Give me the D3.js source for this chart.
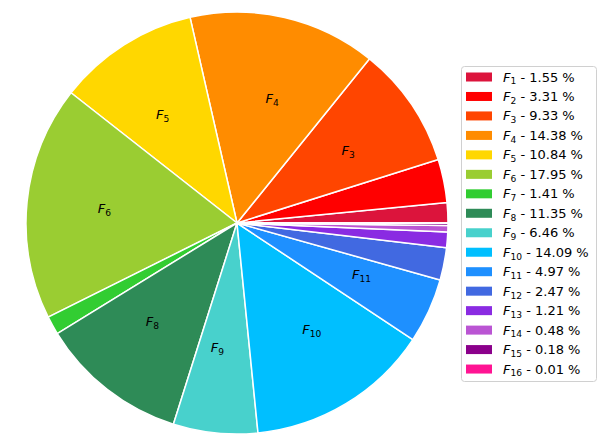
<!DOCTYPE html>
<html>
<head>
<meta charset="utf-8">
<script src="https://cdn.jsdelivr.net/npm/d3@7"></script>
<style>
  body { margin: 0; background: #fff; }
  text { font-family: "DejaVu Sans", sans-serif; }
</style>
</head>
<body>
<svg id="chart" width="598" height="448"></svg>
<script>
const names = ["1","2","3","4","5","6","7","8","9","10","11","12","13","14","15","16"];
const shares = [1.55, 3.31, 9.33, 14.38, 10.84, 17.95, 1.41, 11.35, 6.46, 14.09, 4.97, 2.47, 1.21, 0.48, 0.18, 0.01];
const colors = ["crimson","red","orangered","darkorange","gold","yellowgreen","limegreen","seagreen",
  "mediumturquoise","deepskyblue","dodgerblue","royalblue","blueviolet","mediumorchid","darkmagenta","deeppink"];

const svg = d3.select("#chart");
const cx = 237, cy = 223, r = 211;

const items = names.map((n, i) => ({ name: n, value: shares[i], color: colors[i] }));

// matplotlib style: start at 3 o'clock, counterclockwise
const pie = d3.pie().value(d => d.value).sort(null)
  .startAngle(Math.PI / 2).endAngle(Math.PI / 2 - 2 * Math.PI);
const arcs = pie(items);
const arc = d3.arc().innerRadius(0).outerRadius(r);
const labelArc = d3.arc().innerRadius(r * 0.6).outerRadius(r * 0.6);

const g = svg.append("g").attr("transform", `translate(${cx},${cy})`);

g.selectAll("path")
  .data(arcs)
  .enter()
  .append("path")
  .attr("d", arc)
  .attr("fill", d => d.data.color)
  .attr("stroke", "#fff")
  .attr("stroke-width", 1.5)
  .attr("stroke-linejoin", "round");

function fLabel(sel, size) {
  sel.append("tspan").style("font-style", "italic").attr("font-size", size).text("F");
  sel.append("tspan").attr("font-size", size * 0.7).attr("dy", size * 0.22).text(d => d.name || d.data.name);
}

// labels: left-aligned on the right half, right-aligned on the left half
const lbl = g.selectAll("text.lbl")
  .data(arcs.filter(d => d.data.value > 4))
  .enter()
  .append("text")
  .attr("class", "lbl")
  .attr("text-anchor", d => labelArc.centroid(d)[0] > 0 ? "start" : "end")
  .attr("x", d => labelArc.centroid(d)[0])
  .attr("y", d => labelArc.centroid(d)[1] + 3)
  .attr("fill", "#000");
fLabel(lbl, 13);

// legend
const lx = 461, ly = 66, lw = 136, lh = 315, rowH = 19.47;
svg.append("rect")
  .attr("x", lx + 0.5).attr("y", ly + 0.5)
  .attr("width", lw - 1).attr("height", lh)
  .attr("rx", 3)
  .attr("fill", "#fff")
  .attr("stroke", "#d0d0d0");

const leg = svg.append("g").attr("transform", `translate(${lx},${ly})`);
const rows = leg.selectAll("g")
  .data(items)
  .enter()
  .append("g")
  .attr("transform", (d, i) => `translate(0,${11 + i * rowH})`);

rows.append("rect")
  .attr("x", 5).attr("y", -4.5)
  .attr("width", 26).attr("height", 9)
  .attr("fill", d => d.color);

const lt = rows.append("text")
  .attr("x", 42).attr("y", 4.5)
  .attr("fill", "#000");
fLabel(lt, 13);
lt.append("tspan").attr("font-size", 13).attr("dy", -13 * 0.22).text(d => ` - ${d.value.toFixed(2)} %`);
</script>
</body>
</html>
